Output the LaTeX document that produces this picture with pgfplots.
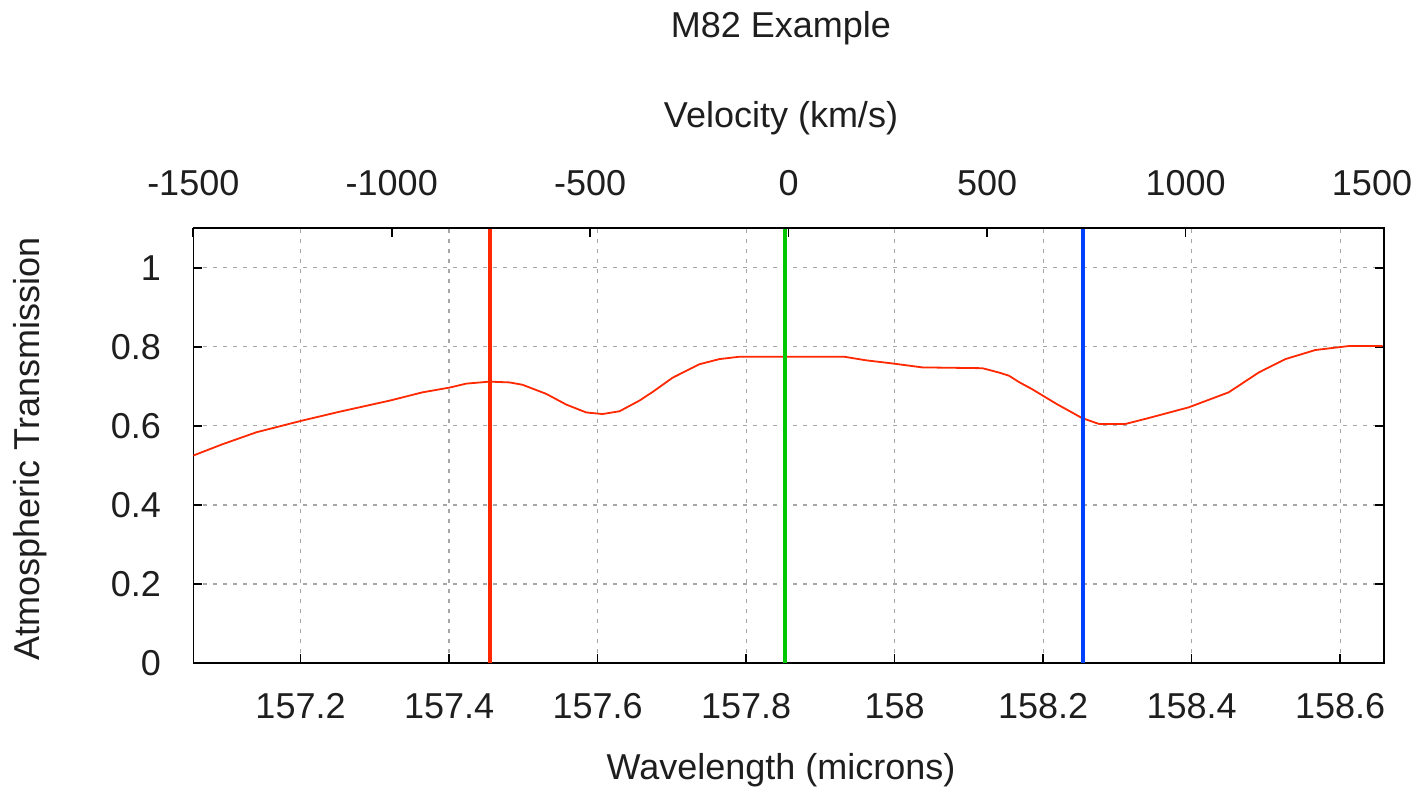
\documentclass[border=0pt]{standalone}
\usepackage{fontspec}
\setmainfont{Liberation Sans}
\usepackage{pgfplots}
\pgfplotsset{compat=1.18}
\definecolor{cred}{RGB}{255,40,0}
\definecolor{cgreen}{RGB}{0,200,0}
\definecolor{cblue}{RGB}{0,64,255}
\definecolor{ctext}{RGB}{30,30,30}
\begin{document}
\fontsize{18}{22}\selectfont
\begin{tikzpicture}
\useasboundingbox (-96.65pt,-62.5pt) rectangle (612.35pt,331.5pt);
\begin{axis}[
 at={(0pt,0pt)}, anchor=south west,
 width=595.35pt, height=217.35pt, scale only axis,
 xmin=157.0556, xmax=158.659, ymin=0, ymax=1.1,
 xtick={157.2,157.4,157.6,157.8,158,158.2,158.4,158.6},
 ytick={0,0.2,0.4,0.6,0.8,1},
 xtick pos=bottom, ytick pos=both, tick align=inside,
 major tick length=4.5pt,
 tick style={line width=0.8pt, black},
 grid=major, grid style={black!35, line width=0.6pt, dash pattern=on 2pt off 3pt},
 axis line style={line width=0.8pt},
 /pgf/number format/assume math mode=true,
 ticklabel style={text=ctext},
 xticklabel style={yshift=-9pt},
 yticklabel style={xshift=-10pt},
]
\addplot[cred, line width=0.9pt] coordinates {
(157.0556,0.525) (157.0955,0.554) (157.1408,0.584) (157.2013,0.613)
(157.2529,0.636) (157.3201,0.664) (157.3645,0.685) (157.4008,0.697)
(157.4233,0.707) (157.4546,0.712) (157.4815,0.710) (157.4990,0.704)
(157.5309,0.681) (157.5578,0.654) (157.5847,0.634) (157.6066,0.630)
(157.6295,0.637) (157.6564,0.664) (157.6742,0.686) (157.7011,0.722)
(157.7371,0.756) (157.7640,0.769) (157.7909,0.775) (157.8537,0.775)
(157.9321,0.775) (157.9613,0.766) (157.9970,0.758) (158.0374,0.748)
(158.1181,0.746) (158.1405,0.735) (158.1540,0.727) (158.1674,0.711)
(158.1850,0.693) (158.2186,0.655) (158.2522,0.620) (158.2750,0.605)
(158.3110,0.605) (158.3423,0.620) (158.3961,0.647) (158.4499,0.685)
(158.4902,0.735) (158.5262,0.769) (158.5665,0.792) (158.6113,0.802)
(158.6570,0.802)
};
\addplot[cred, line width=2pt] coordinates {(157.4546,0) (157.4546,1.1)};
\addplot[cgreen, line width=2pt] coordinates {(157.853,0) (157.853,1.1)};
\addplot[cblue, line width=2pt] coordinates {(158.254,0) (158.254,1.1)};
\end{axis}
\begin{axis}[
 at={(0pt,0pt)}, anchor=south west,
 width=595.35pt, height=217.35pt, scale only axis,
 xmin=-1500, xmax=1500, ymin=0, ymax=1.1,
 axis x line*=top, hide y axis,
 xtick={-1500,-1000,-500,0,500,1000},
 xticklabels={-1500,-1000,-500,0,500,1000},
 extra x ticks={1500},
 extra x tick labels={1500},
 extra x tick style={xticklabel style={xshift=-6pt}},
 xtick pos=right, tick align=inside,
 major tick length=4.5pt,
 tick style={line width=0.8pt, black},
 axis line style={line width=0.8pt},
 ticklabel style={text=ctext},
 xticklabel style={yshift=10pt},
]
\addplot[draw=none] coordinates {(0,0)};
\end{axis}
\node[text=ctext] at (293.85pt,317.5pt) {M82 Example};
\node[text=ctext] at (293.85pt,272.5pt) {Velocity (km/s)};
\node[text=ctext] at (293.85pt,-53.5pt) {Wavelength (microns)};
\node[text=ctext, rotate=90] at (-81.65pt,107pt) {Atmospheric Transmission};
\end{tikzpicture}
\end{document}
